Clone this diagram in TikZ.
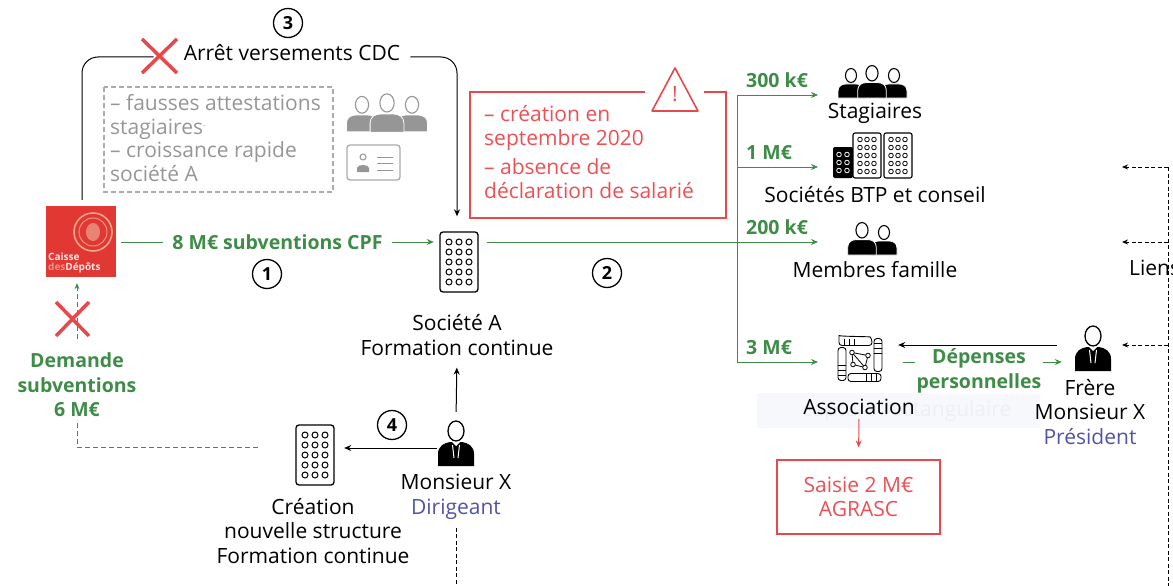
\documentclass[tikz,border=0pt]{standalone}
\usepackage{fontspec}
\setmainfont{Open Sans}
\usetikzlibrary{arrows.meta,calc}
\definecolor{grn}{RGB}{62,140,72}
\definecolor{xred}{RGB}{232,72,76}
\definecolor{tred}{RGB}{236,80,84}
\definecolor{gry}{RGB}{150,150,150}
\definecolor{blu}{RGB}{82,82,168}
\definecolor{cdcred}{RGB}{226,56,52}
\definecolor{emb}{RGB}{238,165,140}
\definecolor{wm}{RGB}{246,248,252}
\definecolor{wmt}{RGB}{236,239,245}
\tikzset{
  pics/bldg/.style={code={
    \draw[line width=1.3pt, rounded corners=3pt, fill=white] (-19,-30) rectangle (19,30);
    \foreach \i in {-10,0,10} \foreach \j in {-20,-10,0,10,20} \draw[line width=1pt] (\i,\j) circle (3);
  }},
  pics/pp/.style={code={
    \fill[#1, draw=white, line width=0.8pt] (-13,14) -- (-13,7) .. controls (-13,2) and (-9,0) .. (-5,0) -- (5,0) .. controls (9,0) and (13,2) .. (13,7) -- (13,14) -- cycle;
    \draw[#1, line width=1.1pt, fill=white] (0,-8.5) ellipse (5.5 and 7);
  }},
  pics/suit/.style={code={
    \fill[black] (-18,24) -- (-18,12) .. controls (-18,4) and (-12,1) .. (-6,0) -- (6,0) .. controls (12,1) and (18,4) .. (18,12) -- (18,24) -- cycle;
    \fill[white] (-4,0) -- (4,0) -- (0,4) -- cycle;
    \draw[white, line width=1pt] (-3.5,3) -- (-2,16) (3.5,3) -- (2,16);
    \draw[black, line width=1.3pt, fill=white] (0,-11) ellipse (8 and 10);
  }},
  pics/btp/.style={code={
    \fill[black, rounded corners=2pt] (-39,-8.5) rectangle (-19,22.5);
    \foreach \i in {-33,-25} \foreach \j in {-1,7,15} \draw[white, line width=0.8pt] (\i,\j) circle (2.3);
    \draw[line width=1.1pt, rounded corners=2pt, fill=white] (-19,-22.5) rectangle (9,22.5);
    \draw[line width=1.1pt, rounded corners=2pt, fill=white] (12,-22.5) rectangle (40,22.5);
    \foreach \i in {-12,-5,2} \foreach \j in {-16,-8,0,8,16} \draw[line width=0.8pt] (\i,\j) circle (2.3);
    \foreach \i in {19,26,33} \foreach \j in {-16,-8,0,8,16} \draw[line width=0.8pt] (\i,\j) circle (2.3);
  }},
  pics/hands/.style={code={
    \begin{scope}[line width=0.9pt, rounded corners=3pt]
      \draw (-21,-21) .. controls (-21,-23) and (10,-23) .. (12,-20) -- (12,-14) -- (-21,-14) -- cycle;
      \draw (14,-21) rectangle (22,12);
      \draw (-12,14) rectangle (21,22);
      \draw (-22,-12) rectangle (-14,21);
      \draw (-16,-21) -- (-16,-14) (-11,-21) -- (-11,-14) (-6,-21) -- (-6,-14);
      \draw (14,-16) -- (22,-16) (14,-11) -- (22,-11) (14,-6) -- (22,-6);
      \draw (16,14) -- (16,22) (11,14) -- (11,22) (6,14) -- (6,22);
      \draw (-22,16) -- (-14,16) (-22,11) -- (-14,11) (-22,6) -- (-14,6);
    \end{scope}
    \draw[line width=0.8pt] (-8,-7) -- (8,-4) -- (5,8) -- (-7,5) -- cycle (-8,-7) -- (5,8);
    \foreach \p in {(-8,-7),(8,-4),(5,8),(-7,5)} \draw[fill=white, line width=0.8pt] \p circle (2.3);
  }}
}
\begin{document}
\begin{tikzpicture}[x=1pt,y=-1pt,
  every node/.style={inner sep=0pt, font=\fontsize{21}{24.5}\selectfont},
  lbl/.style={align=center},
  glab/.style={text=grn, font=\bfseries\fontsize{19.5}{24.5}\selectfont},
  num/.style={circle, draw, line width=1.3pt, minimum size=29pt, font=\bfseries\fontsize{18}{18}\selectfont},
  tip/.style={-{Stealth[length=7pt,width=6pt]}},
  stip/.style={-{Stealth[length=6pt,width=5pt]}},
  gl/.style={draw=grn, line width=1pt},
  ga/.style={gl, tip},
  bl/.style={draw=black, line width=1pt},
  ba/.style={bl, tip},
  dl/.style={draw=black, line width=0.9pt, dash pattern=on 4pt off 2.5pt},
  gd/.style={draw=grn, line width=1pt, dash pattern=on 5pt off 3pt},
  xmark/.style={draw=xred, line width=3.5pt}
]
\useasboundingbox (0,0) rectangle (1173,586);

% watermark
\fill[wm] (757,393) rectangle (1040,428);
\node[text=wmt] at (907,411) {capture rectangulaire};

% ---------- CDC logo
\node[fill=cdcred, minimum width=70pt, minimum height=71pt] (cdc) at (81,241.5) {};
\draw[emb, line width=1.6pt] (93,232) circle (19);
\draw[emb!85!cdcred, line width=1pt] (93,232) circle (14);
\fill[emb!70!cdcred] (93,232) ellipse (7 and 9);
\node[anchor=west, text=white!88!cdcred, font=\bfseries\fontsize{10}{10}\selectfont] at (48,257) {Caisse};
\node[anchor=west, text=white!88!cdcred, font=\bfseries\fontsize{10}{10}\selectfont] at (48,268) {\textcolor{white!45!cdcred}{des}Dépôts};

% ---------- Société A
\node[minimum width=40pt, minimum height=61pt] (socA) at (459,262) {};
\pic at (socA) {bldg};
\node[lbl] (socAl) at (457,335) {Société A\\Formation continue};

% ---------- arrow 1
\coordinate (y242) at (0,242);
\draw[ga, shorten <=5pt, shorten >=5pt] (cdc.east |- y242) -- node[fill=white, inner xsep=9pt, glab]{8 M€ subventions CPF} (socA.west |- y242);
\node[num] (n1) at (267,274) {1};

% ---------- arrow 3
\node[num] (n3) at (288,23) {3};
\node (arr) at (292,53) {Arrêt versements CDC};
\draw[bl, rounded corners=16pt] ($(cdc.north)+(1,-6)$) |- ($(arr.west)+(-30,4)$);
\draw[ba, rounded corners=16pt] ($(arr.east)+(10,4)$) -| ($(socA.north)+(-2,-15)$);
\draw[xmark] (142,39) -- (177,73) (177,39) -- (142,73);

% ---------- gray dashed box
\draw[gry!80, line width=1.2pt, dash pattern=on 5pt off 3pt] (104,87) rectangle (333,192);
\node[anchor=west, align=left, text=gry, font=\fontsize{21}{23.7}\selectfont] (fraud) at (110,138)
  {– fausses attestations\\stagiaires\raisebox{6pt}{\fontsize{8}{8}\selectfont -}\\– croissance rapide\\société A};
\pic[scale=1.2] at (362,115) {pp=gry};
\pic[scale=1.2] at (412,115) {pp=gry};
\pic[scale=1.3] at (387,114) {pp=gry};
\draw[gry!80, line width=1.3pt, rounded corners=3pt] (347,145) rectangle (400,180);
\draw[gry, line width=1pt, fill=white] (363,157) circle (3);
\fill[gry] (357,172) -- (357,168) .. controls (357,164) and (369,164) .. (369,168) -- (369,172) -- cycle;
\draw[gry, line width=1pt] (377,157) -- (393,157) (377,163) -- (393,163) (377,170) -- (393,170);

% ---------- warning box
\draw[xred, line width=1.2pt] (645,92) -- (470,92) -- (470,218) -- (726,218) -- (726,92) -- (704,92);
\draw[xred, line width=1.6pt, line join=round] (652,111) -- (675,68) -- (698,111) -- cycle;
\node[text=xred, font=\fontsize{21}{21}\selectfont] at (675,94) {!};
\node[anchor=west, align=left, text=tred, font=\fontsize{21}{23.5}\selectfont] (warn) at (484,152)
  {– création en\\septembre 2020\\[6pt]– absence de\\déclaration de salarié};

% ---------- branches
\node[num] (n2) at (607,273) {2};
\coordinate (ja) at (737,95);
\coordinate (jd) at (737,362);
\coordinate (e1) at (818,95);
\coordinate (e2) at (818,167);
\coordinate (e3) at (818,242);
\coordinate (e4) at (818,362);
\draw[gl] ($(socA.east |- y242)+(8,0)$) -- (e3 -| ja);
\draw[gl] (ja) -- (jd);
\draw[ga] (ja) -- (e1);
\draw[ga] (e2 -| ja) -- (e2);
\draw[ga] (e3 -| ja) -- (e3);
\draw[ga] (jd) -- (e4);
\node[glab, anchor=west] at (746,80) {300 k€};
\node[glab, anchor=west] at (746,153) {1 M€};
\node[glab, anchor=west] at (746,227) {200 k€};
\node[glab, anchor=west] at (746,348) {3 M€};

% stagiaires
\node[minimum width=71pt, minimum height=33pt] (stag) at (873,82) {};
\pic at (851,84) {pp=black};
\pic at (894,84) {pp=black};
\pic[scale=1.1] at (872,82.6) {pp=black};
\node (stagl) at (875,113) {Stagiaires};

% BTP
\node[minimum width=80pt, minimum height=45pt] (btp) at (872,155.5) {};
\pic at (btp) {btp};
\node (btpl) at (875,195) {Sociétés BTP et conseil};

% famille
\node[minimum width=50pt, minimum height=34pt] (fam) at (872,238) {};
\pic at (884,241) {pp=black};
\pic[scale=1.1] at (862,239.6) {pp=black};
\node (faml) at (875,270) {Membres famille};

% association
\node[minimum width=46pt, minimum height=45pt] (assoc) at (860,359.5) {};
\pic at (assoc) {hands};
\node (assocl) at (859,407) {Association};

% frere
\node[minimum width=40pt, minimum height=46pt] (frere) at (1093,349) {};
\pic at (1093,347) {suit};
\node[lbl] (frerel) at (1090,412) {Frère\\Monsieur X\\\textcolor{blu}{Président}};

\coordinate (y345) at (0,345);
\coordinate (y362) at (0,362);
\draw[ba, shorten <=16pt, shorten >=15pt] (frere.west |- y345) -- (assoc.east |- y345);
\draw[ga, shorten <=20pt, shorten >=11pt] (assoc.east |- y362) -- node[pos=0.505, yshift=-9pt, fill=white, inner xsep=2pt, inner ysep=1pt, lbl, glab]{Dépenses\\personnelles} (frere.west |- y362);

% saisie
\node[draw=xred, line width=1.2pt, minimum width=163pt, minimum height=74pt, lbl, text=tred, font=\fontsize{21}{24.5}\selectfont] (saisie) at (858.5,497) {Saisie 2 M€\\AGRASC};
\draw[draw=xred, line width=1pt, tip, shorten <=4pt, shorten >=12pt] (assocl.south) -- (saisie.north);

% right dashed liens
\coordinate (rt) at (1168,167);
\coordinate (rb) at (1168,586);
\coordinate (l1) at (1122,167);
\coordinate (l2) at (1122,242);
\coordinate (l3) at (1122,345);
\draw[dl] (rt) -- (rb);
\draw[dl, stip] (rt) -- (l1);
\draw[dl, stip] (l2 -| rt) -- (l2);
\draw[dl, stip] (l3 -| rt) -- (l3);
\node[anchor=west] at (1129,268) {Liens};

% ---------- bottom left
\node[lbl, glab] (dem) at (77,385) {Demande\\subventions\\6 M€};
\draw[gd, stip] ($(dem.north)+(0,-14)$) -- ($(cdc.south)+(-4,6)$);
\draw[xmark] (56,302) -- (89,336) (89,302) -- (56,336);
\coordinate (y447) at (0,447);
\draw[gd] ($(dem.south)+(0,6)$) |- ($(y447)+(258,0)$);

% creation
\node[minimum width=38pt, minimum height=61pt] (crea) at (315,455) {};
\pic at (crea) {bldg};
\node[lbl] (creal) at (313,531) {Création\\nouvelle structure\\Formation continue};

% monsieur X
\node[minimum width=36pt, minimum height=48pt] (mx) at (456,444) {};
\pic at (456,442) {suit};
\node[lbl] (mxl) at (456,497) {Monsieur X\\\textcolor{blu}{Dirigeant}};
\coordinate (y448) at (0,448);
\draw[ba, shorten <=1pt, shorten >=10pt] (mx.west |- y448) -- (crea.east |- y448);
\node[num] (n4) at (392,425) {4};
\draw[ba, shorten <=8pt, shorten >=12pt] (mx.north) -- (socAl.south);
\coordinate (bm) at (456,586);
\draw[dl] ($(mxl.south)+(0,8)$) -- (bm);
\end{tikzpicture}
\end{document}
